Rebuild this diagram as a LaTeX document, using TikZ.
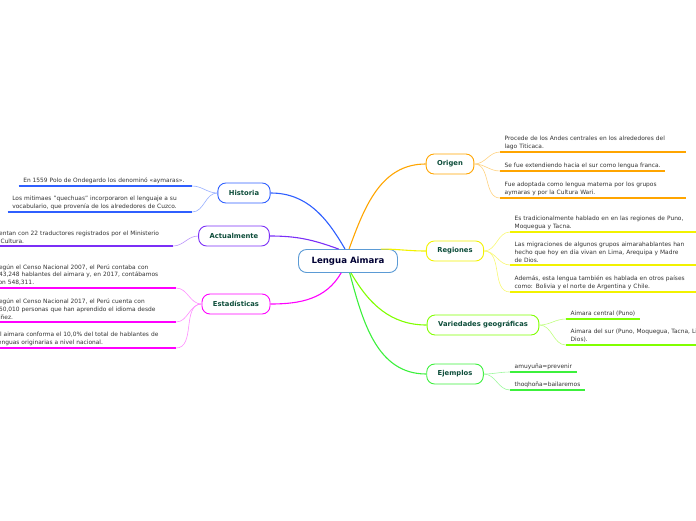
\documentclass[tikz,border=0pt]{standalone}
\usepackage{fontspec}
\setmainfont{DejaVu Sans}
\usetikzlibrary{positioning}

\definecolor{hiscol}{HTML}{2F5FFF}
\definecolor{actcol}{HTML}{7B2FF7}
\definecolor{estcol}{HTML}{FF00FF}
\definecolor{oricol}{HTML}{FFA500}
\definecolor{regcol}{HTML}{F2F200}
\definecolor{varcol}{HTML}{80FF00}
\definecolor{ejecol}{HTML}{3CF03C}
\definecolor{rootcol}{HTML}{5B9BD5}
\definecolor{labcol}{HTML}{0D4D3A}
\definecolor{leafcol}{HTML}{333333}

\begin{document}
\begin{tikzpicture}[
    x=1pt, y=-1pt,
    topic/.style={draw, rounded corners=8pt, fill=white, line width=0.9pt,
        inner xsep=11pt, minimum height=20pt, text=labcol,
        font=\fontsize{6.8}{8}\selectfont\bfseries},
    leaf/.style={inner xsep=4.5pt, inner ysep=2.5pt, align=left, text=leafcol,
        font=\fontsize{5.9}{7.8}\selectfont},
    branch/.style={line width=1.1pt},
    twig/.style={line width=0.6pt},
    uline/.style={line width=1.6pt}
]
\clip (0,0) rectangle (696,520);

% nodo central
\node[topic, draw=rootcol, minimum height=23pt, inner xsep=13pt, text=black!80!blue,
      font=\fontsize{8.6}{10}\selectfont\bfseries] (root) at (348,261) {Lengua Aimara};

% temas de la izquierda
\node[topic, draw=hiscol] (hist) at (244,193) {Historia};
\node[topic, draw=actcol] (act)  at (234,236) {Actualmente};
\node[topic, draw=estcol] (est)  at (236,304) {Estadísticas};

% temas de la derecha
\node[topic, draw=oricol] (ori) at (450,164) {Origen};
\node[topic, draw=regcol] (reg) at (455,251) {Regiones};
\node[topic, draw=varcol] (var) at (483,325) {Variedades geográficas};
\node[topic, draw=ejecol] (eje) at (455,374) {Ejemplos};

% ramas principales
\draw[branch, hiscol] (hist.east) to[out=0, in=120] (root.104);
\draw[branch, actcol] (act.east)  to[out=0, in=160] (root.128);
\draw[branch, estcol] (est.east)  to[out=0, in=-120] (root.-120);
\draw[branch, oricol] (ori.west)  to[out=180, in=70] (root.85);
\draw[branch, regcol] (reg.west)  to[out=180, in=0] (root.20);
\draw[branch, varcol] (var.west)  to[out=180, in=-60] (root.-76);
\draw[branch, ejecol] (eje.west)  to[out=180, in=-75] (root.-82);

% Historia
\node[leaf, anchor=south east, text width=164pt] (h1) at (192,186)
    {En 1559 Polo de Ondegardo los denominó «aymaras».};
\node[leaf, anchor=south east, text width=175pt] (h2) at (192,212)
    {Los mitimaes "quechuas" incorporaron el lenguaje a su\\vocabulario, que provenía de los alrededores de Cuzco.};
\foreach \n in {h1,h2} {
  \draw[uline, hiscol] (\n.south west) -- (\n.south east);
  \draw[twig, hiscol!50] (hist.west) to[out=180, in=0] (\n.south east);
}

% Actualmente
\node[leaf, anchor=south east, text width=177pt] (a1) at (173,246)
    {Cuentan con 22 traductores registrados por el Ministerio\\de Cultura.};
\draw[uline, actcol] (a1.south west) -- (a1.south east);
\draw[twig, actcol!50] (act.west) to[out=180, in=0] (a1.south east);

% Estadísticas
\node[leaf, anchor=south east, text width=176pt] (e1) at (176,288)
    {Según el Censo Nacional 2007, el Perú contaba con\\443,248 hablantes del aimara y, en 2017, contábamos\\con 548,311.};
\node[leaf, anchor=south east, text width=176pt] (e2) at (176,322)
    {Según el Censo Nacional 2017, el Perú cuenta con\\450,010 personas que han aprendido el idioma desde\\niñez.};
\node[leaf, anchor=south east, text width=175pt] (e3) at (176,348)
    {El aimara conforma el 10,0\% del total de hablantes de\\lenguas originarias a nivel nacional.};
\foreach \n in {e1,e2,e3} {
  \draw[uline, estcol] (\n.south west) -- (\n.south east);
  \draw[twig, estcol!45] (est.west) to[out=180, in=0] (\n.south east);
}

% Origen
\node[leaf, anchor=south west, text width=177pt] (o1) at (500,152)
    {Procede de los Andes centrales en los alrededores del\\lago Titicaca.};
\node[leaf, anchor=south west] (o2) at (500,171)
    {Se fue extendiendo hacia el sur como lengua franca.};
\node[leaf, anchor=south west, text width=177pt] (o3) at (500,198)
    {Fue adoptada como lengua materna por los grupos\\aymaras y por la Cultura Wari.};
\foreach \n in {o1,o2,o3} {
  \draw[uline, oricol] (\n.south west) -- (\n.south east);
  \draw[twig, oricol!50] (ori.east) to[out=0, in=180] (\n.south west);
}

% Regiones
\node[leaf, anchor=south west, text width=180pt] (r1) at (510,232)
    {Es tradicionalmente hablado en en las regiones de Puno,\\Moquegua y Tacna.};
\node[leaf, anchor=south west, text width=180pt] (r2) at (510,265)
    {Las migraciones de algunos grupos aimarahablantes han\\hecho que hoy en día vivan en Lima, Arequipa y Madre\\de Dios.};
\node[leaf, anchor=south west, text width=180pt] (r3) at (510,292)
    {Además, esta lengua también es hablada en otros países\\como: Bolivia y el norte de Argentina y Chile.};
\foreach \n in {r1,r2,r3} {
  \draw[uline, regcol] (\n.south west) -- (\n.south east);
  \draw[twig, regcol!55] (reg.east) to[out=0, in=180] (\n.south west);
}

% Variedades geográficas
\node[leaf, anchor=south west] (v1) at (566,319) {Aimara central (Puno)};
\node[leaf, anchor=south west, text width=215pt] (v2) at (566,345)
    {Aimara del sur (Puno, Moquegua, Tacna, Lima, Arequipa y Madre de\\Dios).};
\foreach \n in {v1,v2} {
  \draw[uline, varcol] (\n.south west) -- (\n.south east);
  \draw[twig, varcol!50] (var.east) to[out=0, in=180] (\n.south west);
}

% Ejemplos
\node[leaf, anchor=south west] (j1) at (510,372) {amuyuña=prevenir};
\node[leaf, anchor=south west] (j2) at (510,390) {thoqhoña=bailaremos};
\foreach \n in {j1,j2} {
  \draw[uline, ejecol] (\n.south west) -- (\n.south east);
  \draw[twig, ejecol!50] (eje.east) to[out=0, in=180] (\n.south west);
}

\end{tikzpicture}
\end{document}
